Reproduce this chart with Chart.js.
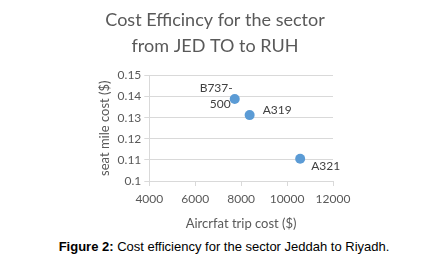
<!DOCTYPE html>
<html>
<head>
<meta charset="utf-8">
<script src="https://cdn.jsdelivr.net/npm/chart.js@4"></script>
<style>
  body { margin: 0; background: #fff; }
  #wrap { position: relative; width: 426px; height: 232px; }
  #caption {
    position: absolute; top: 239px; left: 11px; width: 426px;
    text-align: center; font-family: "Liberation Sans", Arial, sans-serif;
    font-size: 13px; color: #000;
  }
</style>
</head>
<body>
<div id="wrap"><canvas id="chart"></canvas></div>
<div id="caption"><b>Figure 2:</b> Cost efficiency for the sector Jeddah to Riyadh.</div>
<script>
// aircraft types and their costs
const aircraft = ['B737-500', 'A319', 'A321'];
const tripCost = [7720, 8370, 10570];
const seatMileCost = [0.1388, 0.1312, 0.1105];

const xTicks = [4000, 6000, 8000, 10000, 12000];
const yTicks = [0.1, 0.11, 0.12, 0.13, 0.14, 0.15];

const textGray = '#595959';
const gridGray = '#d9d9d9';
const font = 'Lato';

// labels next to the points, like excel data labels
const pointLabels = {
  id: 'pointLabels',
  afterDatasetsDraw(chart) {
    const ctx = chart.ctx;
    const xs = chart.scales.x, ys = chart.scales.y;
    ctx.save();
    ctx.fillStyle = '#404040';
    ctx.font = '12px ' + font;
    ctx.textBaseline = 'middle';
    aircraft.forEach((name, i) => {
      const px = xs.getPixelForValue(tripCost[i]);
      const py = ys.getPixelForValue(seatMileCost[i]);
      if (name === 'B737-500') {
        ctx.textAlign = 'right';
        ctx.fillText('B737-', px - 2, py - 11);
        ctx.fillText('500', px - 4, py + 5);
      } else if (name === 'A319') {
        ctx.textAlign = 'left';
        ctx.fillText(name, px + 13, py - 5);
      } else {
        ctx.textAlign = 'left';
        ctx.fillText(name, px + 11, py + 7);
      }
    });
    ctx.restore();
  }
};

new Chart(document.getElementById('chart'), {
  type: 'scatter',
  data: {
    datasets: [{
      data: tripCost.map((x, i) => ({ x: x, y: seatMileCost[i] })),
      backgroundColor: '#5b9bd5',
      borderWidth: 0,
      pointRadius: 5
    }]
  },
  options: {
    responsive: true,
    maintainAspectRatio: false,
    animation: false,
    layout: { padding: { left: 97, right: 93, top: 0, bottom: 0 } },
    scales: {
      x: {
        type: 'linear',
        min: 4000, max: 12000,
        afterBuildTicks: s => { s.ticks = xTicks.map(v => ({ value: v })); },
        grid: { drawOnChartArea: false, tickColor: gridGray, tickLength: 5 },
        border: { color: gridGray },
        ticks: { color: textGray, font: { family: font, size: 12 }, padding: 6, callback: v => String(v) },
        title: { display: true, text: 'Aircrfat trip cost ($)', color: textGray, font: { family: font, size: 13 }, padding: { top: 4, bottom: 0 } }
      },
      y: {
        type: 'linear',
        min: 0.1, max: 0.15,
        afterBuildTicks: s => { s.ticks = yTicks.map(v => ({ value: v })); },
        grid: { color: gridGray, tickColor: gridGray, tickLength: 5 },
        border: { color: gridGray },
        ticks: { color: textGray, font: { family: font, size: 12 }, padding: 3, callback: v => String(+v.toFixed(2)) },
        title: { display: true, text: 'seat mile cost ($)', color: textGray, font: { family: font, size: 13 }, padding: { top: 0, bottom: 2 } }
      }
    },
    plugins: {
      legend: { display: false },
      tooltip: { enabled: false },
      title: {
        display: true,
        text: ['Cost Efficincy for the sector', 'from JED TO to RUH'],
        color: textGray,
        font: { family: font, size: 18, weight: 'normal', lineHeight: 1.4 },
        padding: { top: 8, bottom: 17 }
      }
    }
  },
  plugins: [pointLabels]
});
</script>
</body>
</html>
